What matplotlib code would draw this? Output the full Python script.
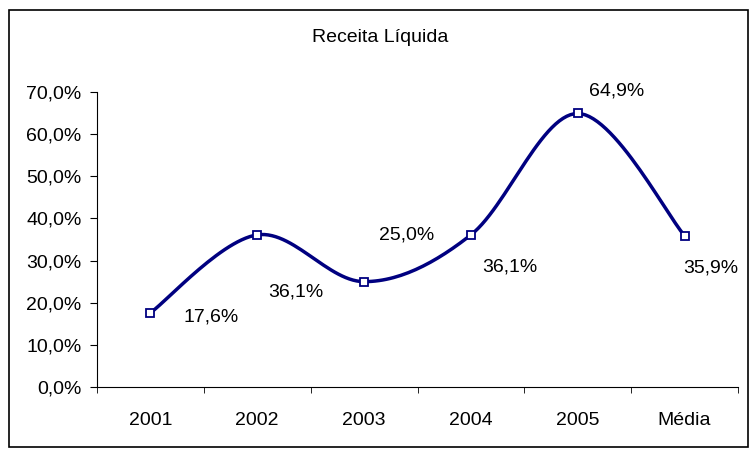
import matplotlib.pyplot as plt
import numpy as np
from matplotlib.patches import Rectangle
from matplotlib.ticker import FuncFormatter, MultipleLocator

plt.rcParams['font.family'] = ['Liberation Sans', 'DejaVu Sans']

categories = ["2001", "2002", "2003", "2004", "2005", "Média"]
values = [17.6, 36.1, 25.0, 36.1, 64.9, 35.9]
labels = ["17,6%", "36,1%", "25,0%", "36,1%", "64,9%", "35,9%"]
# label offsets from each marker, in pixels (right, up)
label_offsets = [(61, -4), (39, -57), (43, 47), (39, -32), (39, 22), (26, -32)]

LINE = "#000080"
FS = 14


def smooth(xs, ys, steps=30):
    # Catmull-Rom style bezier smoothing through every point
    pts = np.column_stack([xs, ys]).astype(float)
    padded = np.vstack([pts[0], pts, pts[-1]])
    out = []
    for i in range(len(pts) - 1):
        p0, p1, p2, p3 = padded[i], padded[i + 1], padded[i + 2], padded[i + 3]
        c1 = p1 + (p2 - p0) / 6
        c2 = p2 - (p3 - p1) / 6
        t = np.linspace(0, 1, steps)[:, None]
        seg = ((1 - t) ** 3) * p1 + 3 * ((1 - t) ** 2) * t * c1 + 3 * (1 - t) * t ** 2 * c2 + t ** 3 * p2
        out.append(seg if i == 0 else seg[1:])
    curve = np.vstack(out)
    return curve[:, 0], curve[:, 1]


fig = plt.figure(figsize=(7.5, 4.49), dpi=100)
fig.patches.append(Rectangle((8.5 / 750, 2 / 449), 739 / 750, 437 / 449, transform=fig.transFigure,
                             fill=False, edgecolor="black", linewidth=1.2))

ax = fig.add_axes([97 / 750, 1 - 387 / 449, 641 / 750, 295 / 449])
x = np.arange(len(categories))
sx, sy = smooth(x, values)
ax.plot(sx, sy, color=LINE, linewidth=2.5, solid_capstyle="round", zorder=2)
ax.plot(x, values, linestyle="none", marker="s", markersize=5.5, markerfacecolor="white",
        markeredgecolor=LINE, markeredgewidth=1.3, zorder=3)

for xi, v, lab, (dx, dy) in zip(x, values, labels, label_offsets):
    ax.annotate(lab, (xi, v), xytext=(dx, dy), textcoords="offset pixels",
                ha="center", va="center", fontsize=FS)

ax.set_xlim(-0.5, len(categories) - 0.5)
ax.set_ylim(0, 70)
ax.yaxis.set_major_locator(MultipleLocator(10))
ax.yaxis.set_major_formatter(FuncFormatter(lambda v, _: f"{v:.1f}%".replace(".", ",")))
ax.set_xticks(x)
ax.set_xticklabels(categories)
ax.set_xticks(np.arange(-0.5, len(categories)), minor=True)
ax.tick_params(axis="x", which="major", length=0, pad=18, labelsize=FS)
ax.tick_params(axis="x", which="minor", length=4.5, direction="out")
ax.tick_params(axis="y", length=5, direction="out", labelsize=FS, pad=6)

for side in ("top", "right"):
    ax.spines[side].set_visible(False)

fig.text(380 / 750, 1 - 38 / 449, "Receita Líquida", ha="center", va="center", fontsize=FS)

fig.savefig("out.png", dpi=100)
